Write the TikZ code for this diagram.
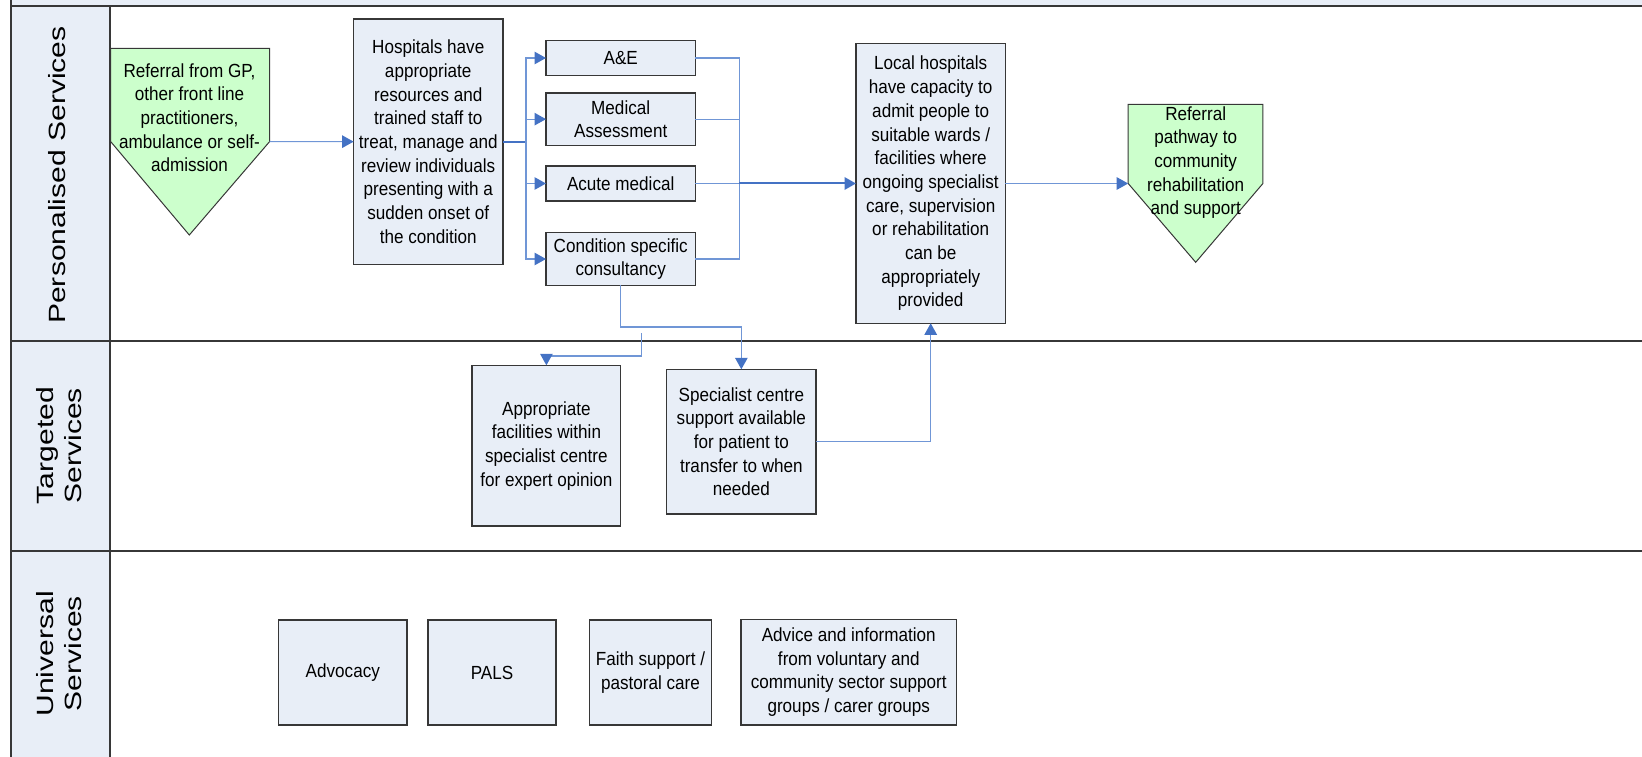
\documentclass[tikz,border=0pt]{standalone}
\usepackage{fontspec}
\setmainfont{Liberation Sans}
\newfontfamily\boxfont[FakeStretch=0.9]{Liberation Sans}
\newfontfamily\lanefont[FakeStretch=1.28]{Liberation Sans}
\usetikzlibrary{arrows.meta}
\definecolor{boxfill}{RGB}{232,238,247}
\definecolor{greenfill}{RGB}{204,255,204}
\definecolor{linkdark}{RGB}{68,114,196}
\definecolor{linklight}{RGB}{112,150,214}
\definecolor{edgegray}{RGB}{55,55,55}
\tikzset{
  box/.style={draw=edgegray, line width=1.2pt, fill=boxfill, inner sep=0pt, outer sep=0pt,
    align=center, font=\boxfont\fontsize{19}{23.7}\selectfont},
  greenshape/.style={draw=edgegray, line width=1pt, fill=greenfill},
  boxtext/.style={inner sep=0pt, align=center, font=\boxfont\fontsize{19}{23.7}\selectfont},
  lanelabel/.style={rotate=90, inner sep=0pt, align=center, font=\lanefont\fontsize{23.5}{28}\selectfont},
  laneline/.style={draw=edgegray, line width=2pt},
  thinlink/.style={draw=linklight, line width=1.2pt},
  thicklink/.style={draw=linkdark, line width=2pt},
  arr/.style={-{Triangle[length=11.5pt,width=12.5pt,color=linkdark]}},
}
\begin{document}
\begin{tikzpicture}[x=1pt,y=-1pt]
\useasboundingbox (0,0) rectangle (1642,757);
% lanes
\fill[boxfill] (11,0) rectangle (1642,5.7);
\fill[boxfill] (11,5.7) rectangle (110,757);
\draw[laneline] (11,5.7) -- (1642,5.7);
\draw[laneline] (11,340.7) -- (1642,340.7);
\draw[laneline] (11,550.7) -- (1642,550.7);
\draw[draw=edgegray, line width=1.5pt] (11,0) -- (11,757);
\draw[draw=edgegray, line width=1.2pt] (110,5.7) -- (110,757);
\node[lanelabel] (lane1) at (57,175) {Personalised Services};
\node[lanelabel] (lane2) at (59,445.7) {Targeted\\Services};
\node[lanelabel] (lane3) at (59,653.8) {Universal\\Services};

% green pentagons
\draw[greenshape] (110.7,48.3) -- (269.6,48.3) -- (269.6,141.6) -- (189.3,235) -- (110.7,141.6) -- cycle;
\coordinate (r1e) at (269.6,141.6);
\node[boxtext] (ref1) at (189.5,117.8) {Referral from GP,\\other front line\\practitioners,\\ambulance or self-\\admission};

\draw[greenshape] (1128.2,104.3) -- (1262.9,104.3) -- (1262.9,183.5) -- (1195.7,262.3) -- (1128.2,183.5) -- cycle;
\coordinate (r2w) at (1128.2,183.5);
\node[boxtext] (ref2) at (1195.7,162.5) {Referral\\pathway to\\community\\rehabilitation\\and support};

% boxes
\node[box, anchor=north west, minimum width=149.3pt, minimum height=245.3pt] (hosp) at (353.6,19)
  {Hospitals have\\appropriate\\resources and\\trained staff to\\treat, manage and\\review individuals\\presenting with a\\sudden onset of\\the condition};
\node[box, anchor=north west, minimum width=149.4pt, minimum height=34.6pt] (ae) at (546,40.7) {A\&E};
\node[box, anchor=north west, minimum width=149.4pt, minimum height=52.3pt] (ma) at (546,93) {Medical\\Assessment};
\node[box, anchor=north west, minimum width=149.4pt, minimum height=35pt] (acute) at (546,166) {Acute medical};
\node[box, anchor=north west, minimum width=149.4pt, minimum height=52.6pt] (cond) at (546,232.7) {Condition specific\\consultancy};
\node[box, anchor=north west, minimum width=149.4pt, minimum height=279.6pt] (local) at (856,43.7)
  {Local hospitals\\have capacity to\\admit people to\\suitable wards /\\facilities where\\ongoing specialist\\care, supervision\\or rehabilitation\\can be\\appropriately\\provided};
\node[box, anchor=north west, minimum width=148.8pt, minimum height=160.7pt] (appr) at (472,365.3)
  {Appropriate\\facilities within\\specialist centre\\for expert opinion};
\node[box, anchor=north west, minimum width=149.3pt, minimum height=144.7pt] (spec) at (666.7,369.3)
  {Specialist centre\\support available\\for patient to\\transfer to when\\needed};
\node[box, anchor=north west, minimum width=128.2pt, minimum height=105pt] (adv) at (278.7,620) {Advocacy};
\node[box, anchor=north west, minimum width=128pt, minimum height=105pt] (pals) at (428,620) {PALS};
\node[box, anchor=north west, minimum width=122.4pt, minimum height=105pt] (faith) at (589.3,620) {Faith support /\\pastoral care};
\node[box, anchor=north west, minimum width=215.6pt, minimum height=105.7pt] (advice) at (741,619.3)
  {Advice and information\\from voluntary and\\community sector support\\groups / carer groups};

% connectors
\draw[thinlink, arr] (r1e) -- (hosp.west);
\coordinate (brn) at ([xshift=23pt]hosp.east);
\draw[thicklink] (hosp.east) -- (brn);
\draw[thinlink, arr] (brn) |- (ae.west);
\draw[thinlink, arr] (brn) |- (ma.west);
\draw[thinlink, arr] (brn) |- (acute.west);
\draw[thinlink, arr] (brn) |- (cond.west);
\coordinate (mrg) at ([xshift=44pt]acute.east);
\draw[thinlink] (ae.east) -| (mrg);
\draw[thinlink] (ma.east) -| (mrg);
\draw[thinlink] (cond.east) -| (mrg);
\draw[thinlink] (acute.east) -- (mrg);
\draw[thicklink, arr] (mrg) -- (local.west);
\draw[thinlink, arr] (local.east) -- (r2w);
\draw[thinlink, arr] (cond.south) -- ++(0,41.7) -| (spec.north);
\coordinate (fs) at (641.8,333.3);
\draw[thinlink, arr] (fs) -- ++(0,22.7) -| (appr.north);
\draw[thinlink, arr] (spec.east) -| (local.south);
\end{tikzpicture}
\end{document}
